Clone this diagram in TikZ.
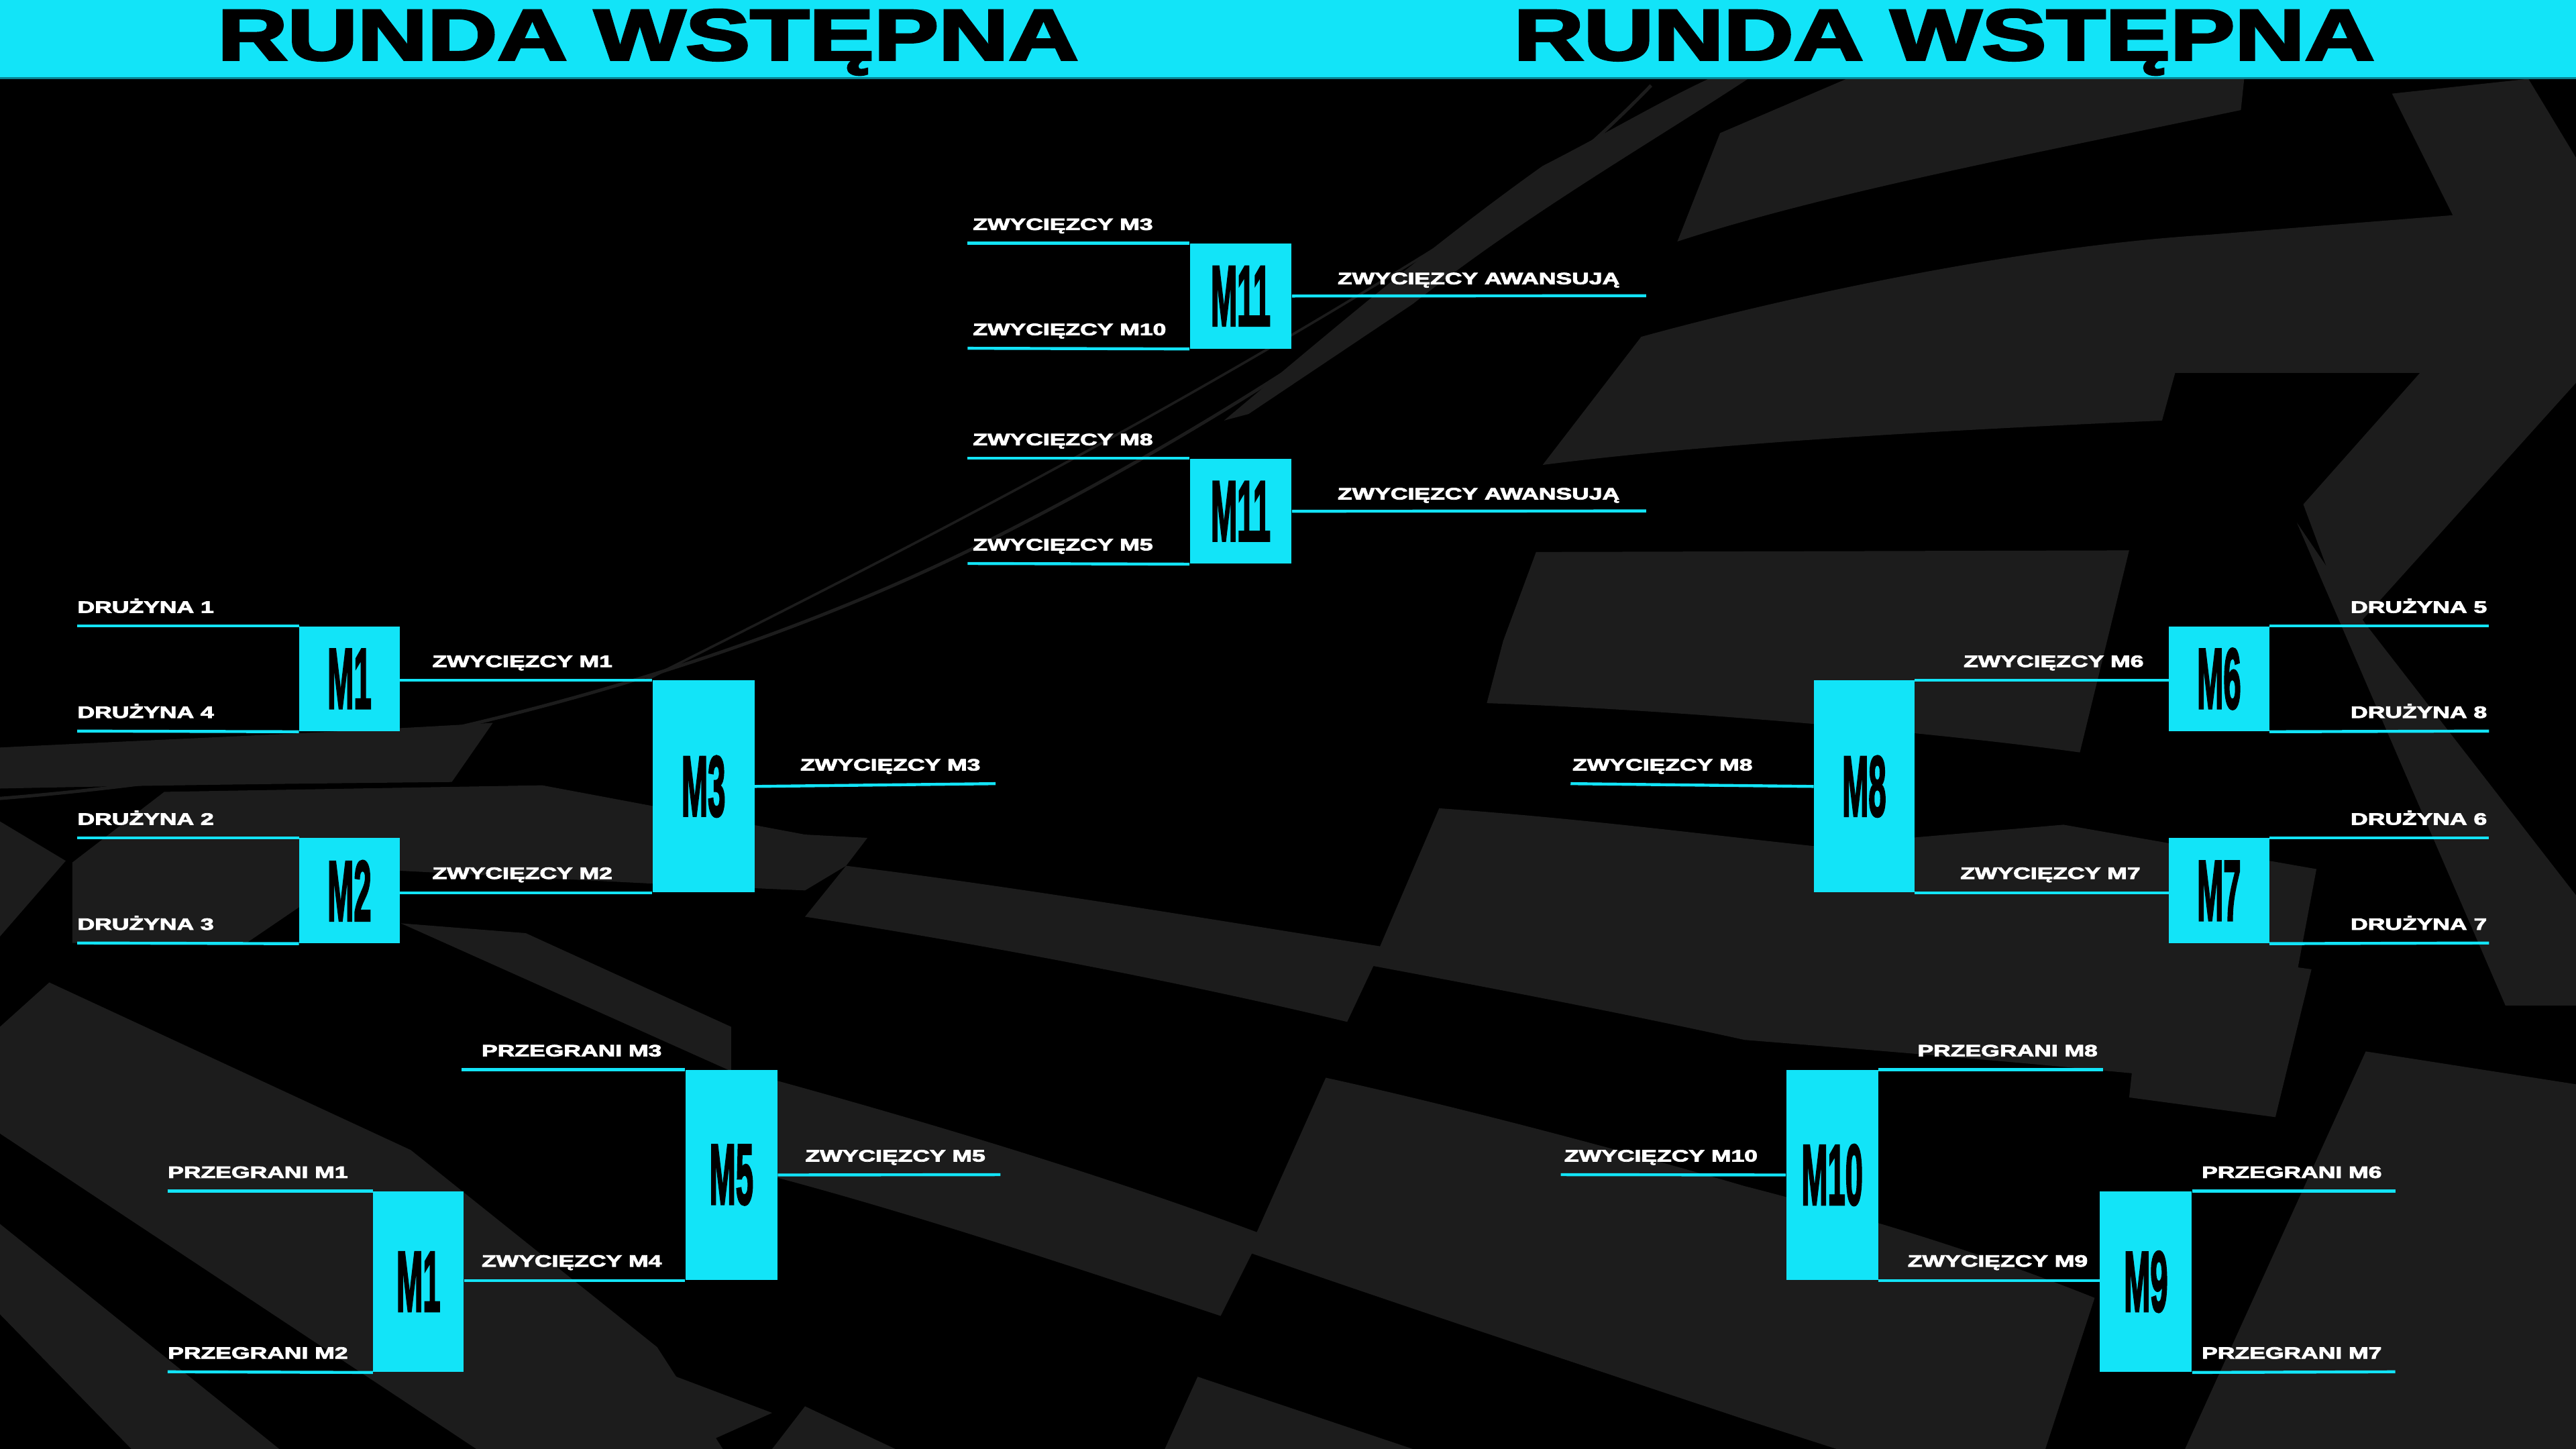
\documentclass[tikz,border=0pt]{standalone}
\usepackage{fontspec}
\setmainfont{Liberation Sans}
\newfontfamily\heavy{Liberation Sans}[BoldFeatures={FakeBold=3}]
\usetikzlibrary{positioning}

\definecolor{cyanb}{RGB}{18,228,248}
\definecolor{smoke}{RGB}{28,28,28}
\definecolor{rim}{RGB}{8,130,145}

\newcommand{\wide}[1]{\scalebox{1.45}[1]{#1}}
\newcommand{\tall}[1]{\scalebox{0.37}[1]{#1}}
\newcommand{\head}[1]{\scalebox{1.34}[1]{#1}}

\begin{document}
\begin{tikzpicture}[x=1pt, y=-1pt,
    match/.style={fill=cyanb, inner sep=0pt, anchor=north west, font=\heavy\bfseries\fontsize{52}{52}\selectfont},
    tag/.style={text=white, inner sep=0pt, font=\heavy\bfseries\fontsize{10}{10}\selectfont},
    wire/.style={draw=cyanb, line width=1.8pt}]

    % background
    \fill[black] (0,0) rectangle (1568,882);
    \useasboundingbox (0,0) rectangle (1568,882);

    % upper right sweeps
    \fill[smoke] (1047,81) -- (1124,48) -- (1366,48) -- (1364,67) .. controls (1230,95) and (1110,118) .. (1021,147) -- cycle;
    \fill[smoke] (1040,48) -- (1064,48) .. controls (1000,90) and (930,130) .. (860,185) -- (760,252) -- (745,256) .. controls (800,210) and (870,150) .. (939,101) .. controls (980,80) and (1010,62) .. (1040,48) -- cycle;
    \fill[smoke] (999,205) .. controls (1090,180) and (1230,150) .. (1343,143) -- (1493,131) -- (1456,57) -- (1539,48) -- (1568,96) -- (1568,233) -- (1431,385) -- (1402,307) -- (1473,227) -- (1324,227) -- (1316,256) .. controls (1180,262) and (1040,270) .. (939,283) -- cycle;
    \fill[smoke] (1398,318) -- (1440,380) -- (1568,545) -- (1568,612) -- (1525,612) -- cycle;
    \fill[smoke] (935,336) -- (1296,335) -- (1266,458) .. controls (1180,446) and (1020,432) .. (905,428) -- (915,390) -- cycle;
    % thin sweep lines
    \draw[smoke, line width=2pt] (0,486) .. controls (200,470) and (420,420) .. (600,330) .. controls (780,240) and (930,130) .. (1005,52);
    \draw[smoke, line width=1.5pt] (393,414) .. controls (560,330) and (760,230) .. (1000,70);

    % middle bands
    \fill[smoke] (515,527) .. controls (620,540) and (740,560) .. (840,576) -- (876,492) .. controls (960,498) and (1030,507) .. (1104,515) -- (1256,502) -- (1410,529) -- (1385,662) .. controls (1250,648) and (1150,640) .. (1062,633) .. controls (980,615) and (900,600) .. (836,588) -- (820,622) .. controls (720,598) and (600,575) .. (490,558) -- cycle;
    \fill[smoke] (490,508) -- (528,510) -- (515,527) -- (490,542) -- (400,538) -- (243,530) -- (200,540) -- (150,574) -- (44,574) -- (44,525) -- (100,482) -- (330,478) -- cycle;
    \fill[smoke] (244,562) -- (320,568) -- (445,625) -- (445,652) -- cycle;
    \fill[smoke] (470,657) .. controls (590,690) and (690,722) .. (765,750) -- (807,656) .. controls (880,672) and (980,698) .. (1062,722) .. controls (1140,742) and (1210,764) .. (1275,790) -- (1245,882) -- (1118,882) -- (1062,864) .. controls (960,830) and (860,797) .. (762,763) -- (743,801) .. controls (650,770) and (560,740) .. (470,716) -- cycle;
    \fill[smoke] (729,838) -- (860,882) -- (709,882) -- cycle;
    \fill[smoke] (490,856) -- (545,882) -- (470,882) -- cycle;

    % lower right
    \fill[smoke] (1440,640) -- (1568,660) -- (1568,882) -- (1330,882) -- cycle;
    \fill[smoke] (1306,576) -- (1407,590) -- (1385,680) -- (1296,668) -- cycle;

    % lower left
    \fill[smoke] (0,455) .. controls (100,450) and (200,446) .. (300,440) -- (275,476) .. controls (180,477) and (90,478) .. (0,480) -- cycle;
    \fill[smoke] (0,500) -- (40,524) -- (0,570) -- cycle;
    \fill[smoke] (0,625) -- (30,598) -- (250,700) -- (400,820) -- (440,882) -- (290,882) -- (0,690) -- cycle;
    \fill[smoke] (0,745) -- (0,800) -- (80,882) -- (170,882) -- cycle;
    \fill[smoke] (282,789) -- (470,860) -- (421,882) -- (287,836) -- cycle;

    % header
    \fill[cyanb] (0,0) rectangle (1568,47);
    \draw[rim, line width=1pt] (0,47.5) -- (1568,47.5);
    \node[anchor=base, inner sep=0pt, font=\heavy\bfseries\fontsize{44}{44}\selectfont] (hl) at (394.5,36.5) {\head{RUNDA WSTĘPNA}};
    \node[anchor=base, inner sep=0pt, font=\heavy\bfseries\fontsize{44}{44}\selectfont] (hr) at (1183.5,36.5) {\head{RUNDA WSTĘPNA}};

    % matches
    \node[match, minimum width=61, minimum height=64] (m1) at (182,381) {\tall{M1}};
    \node[match, minimum width=61, minimum height=64] (m2) at (182,510) {\tall{M2}};
    \node[match, minimum width=62, minimum height=129] (m3) at (397,414) {\tall{M3}};
    \node[match, minimum width=55, minimum height=110] (m4) at (227,725) {\tall{M1}};
    \node[match, minimum width=56, minimum height=128] (m5) at (417,651) {\tall{M5}};
    \node[match, minimum width=62, minimum height=64] (m11a) at (724,148) {\tall{M11}};
    \node[match, minimum width=62, minimum height=64] (m11b) at (724,279) {\tall{M11}};
    \node[match, minimum width=61, minimum height=64] (m6) at (1320,381) {\tall{M6}};
    \node[match, minimum width=61, minimum height=64] (m7) at (1320,510) {\tall{M7}};
    \node[match, minimum width=61, minimum height=129] (m8) at (1104,414) {\tall{M8}};
    \node[match, minimum width=56, minimum height=128] (m10) at (1087,651) {\tall{M10}};
    \node[match, minimum width=56, minimum height=110] (m9) at (1278,725) {\tall{M9}};

    % free ends
    \coordinate (d1) at (47,381);
    \coordinate (d4) at (47,445);
    \coordinate (d2) at (47,510);
    \coordinate (d3) at (47,574);
    \coordinate (w3) at (606,477);
    \coordinate (p1) at (102,725);
    \coordinate (p2) at (102,835);
    \coordinate (p3) at (281,651);
    \coordinate (w5) at (609,715);
    \coordinate (a3) at (589,148);
    \coordinate (a10) at (589,212);
    \coordinate (a8) at (589,279);
    \coordinate (a5) at (589,343);
    \coordinate (up1) at (1002,180);
    \coordinate (up2) at (1002,311);
    \coordinate (d5) at (1515,381);
    \coordinate (d8) at (1515,445);
    \coordinate (d6) at (1515,510);
    \coordinate (d7) at (1515,574);
    \coordinate (w8) at (956,477);
    \coordinate (p8) at (1280,651);
    \coordinate (w10) at (950,715);
    \coordinate (p6) at (1458,725);
    \coordinate (p7) at (1458,835);

    % connectors
    \draw[wire] (d1) -- (m1.north west);
    \draw[wire] (d4) -- (m1.south west);
    \draw[wire] (d2) -- (m2.north west);
    \draw[wire] (d3) -- (m2.south west);
    \draw[wire] (m3.north west -| m1.east) -- (m3.north west);
    \draw[wire] (m3.south west -| m2.east) -- (m3.south west);
    \draw[wire] (m3.east) -- (w3);
    \draw[wire] (p1) -- (m4.north west);
    \draw[wire] (p2) -- (m4.south west);
    \draw[wire] (p3) -- (m5.north west);
    \draw[wire] (m5.south west -| m4.east) -- (m5.south west);
    \draw[wire] (m5.east) -- (w5);
    \draw[wire] (a3) -- (m11a.north west);
    \draw[wire] (a10) -- (m11a.south west);
    \draw[wire] (m11a.east) -- (up1);
    \draw[wire] (a8) -- (m11b.north west);
    \draw[wire] (a5) -- (m11b.south west);
    \draw[wire] (m11b.east) -- (up2);
    \draw[wire] (m6.north east) -- (d5);
    \draw[wire] (m6.south east) -- (d8);
    \draw[wire] (m7.north east) -- (d6);
    \draw[wire] (m7.south east) -- (d7);
    \draw[wire] (m8.north east) -- (m8.north east -| m6.west);
    \draw[wire] (m8.south east) -- (m8.south east -| m7.west);
    \draw[wire] (w8) -- (m8.west);
    \draw[wire] (m10.north east) -- (p8);
    \draw[wire] (w10) -- (m10.west);
    \draw[wire] (m10.south east) -- (m10.south east -| m9.west);
    \draw[wire] (m9.north east) -- (p6);
    \draw[wire] (m9.south east) -- (p7);

    % labels
    \node[tag, anchor=base west] (ld1) at (47,373) {\wide{DRUŻYNA 1}};
    \node[tag, anchor=base west] (ld4) at (47,437) {\wide{DRUŻYNA 4}};
    \node[tag, anchor=base west] (ld2) at (47,502) {\wide{DRUŻYNA 2}};
    \node[tag, anchor=base west] (ld3) at (47,566) {\wide{DRUŻYNA 3}};
    \node[tag, anchor=base west] (lw1) at (263,406) {\wide{ZWYCIĘZCY M1}};
    \node[tag, anchor=base west] (lw2) at (263,535) {\wide{ZWYCIĘZCY M2}};
    \node[tag, anchor=base west] (lw3) at (487,469) {\wide{ZWYCIĘZCY M3}};
    \node[tag, anchor=base west] (lp1) at (102,717) {\wide{PRZEGRANI M1}};
    \node[tag, anchor=base west] (lp2) at (102,827) {\wide{PRZEGRANI M2}};
    \node[tag, anchor=base west] (lp3) at (293,643) {\wide{PRZEGRANI M3}};
    \node[tag, anchor=base west] (lw4) at (293,771) {\wide{ZWYCIĘZCY M4}};
    \node[tag, anchor=base west] (lw5) at (490,707) {\wide{ZWYCIĘZCY M5}};
    \node[tag, anchor=base west] (la3) at (592,140) {\wide{ZWYCIĘZCY M3}};
    \node[tag, anchor=base west] (la10) at (592,204) {\wide{ZWYCIĘZCY M10}};
    \node[tag, anchor=base west] (lup1) at (814,173) {\wide{ZWYCIĘZCY AWANSUJĄ}};
    \node[tag, anchor=base west] (la8) at (592,271) {\wide{ZWYCIĘZCY M8}};
    \node[tag, anchor=base west] (la5) at (592,335) {\wide{ZWYCIĘZCY M5}};
    \node[tag, anchor=base west] (lup2) at (814,304) {\wide{ZWYCIĘZCY AWANSUJĄ}};
    \node[tag, anchor=base east] (ld5) at (1514,373) {\wide{DRUŻYNA 5}};
    \node[tag, anchor=base east] (ld8) at (1514,437) {\wide{DRUŻYNA 8}};
    \node[tag, anchor=base east] (ld6) at (1514,502) {\wide{DRUŻYNA 6}};
    \node[tag, anchor=base east] (ld7) at (1514,566) {\wide{DRUŻYNA 7}};
    \node[tag, anchor=base east] (lw6) at (1305,406) {\wide{ZWYCIĘZCY M6}};
    \node[tag, anchor=base east] (lw7) at (1303,535) {\wide{ZWYCIĘZCY M7}};
    \node[tag, anchor=base west] (lw8) at (957,469) {\wide{ZWYCIĘZCY M8}};
    \node[tag, anchor=base east] (lp8) at (1277,643) {\wide{PRZEGRANI M8}};
    \node[tag, anchor=base west] (lw10) at (952,707) {\wide{ZWYCIĘZCY M10}};
    \node[tag, anchor=base east] (lw9) at (1271,771) {\wide{ZWYCIĘZCY M9}};
    \node[tag, anchor=base west] (lp6) at (1340,717) {\wide{PRZEGRANI M6}};
    \node[tag, anchor=base west] (lp7) at (1340,827) {\wide{PRZEGRANI M7}};
\end{tikzpicture}
\end{document}
